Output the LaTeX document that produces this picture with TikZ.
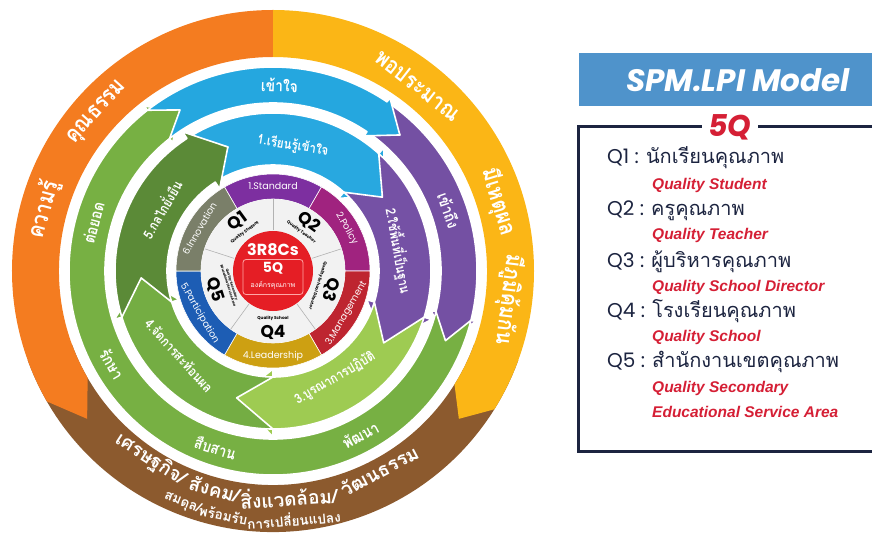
\documentclass[tikz,border=0pt]{standalone}
\usepackage{fontspec}
\setmainfont{Liberation Sans}
\newfontfamily\thaifont[Script=Thai]{Loma}
\newfontfamily\thainarrow[Script=Thai, FakeStretch=0.86]{Loma}
\newfontfamily\popfont{Poppins}

\definecolor{ringorange}{HTML}{F47C20}
\definecolor{ringyellow}{HTML}{FBB616}
\definecolor{ringbrown}{HTML}{8C5A2E}
\definecolor{midblue}{HTML}{25A7DF}
\definecolor{midpurple}{HTML}{7450A3}
\definecolor{midgreen}{HTML}{77B043}
\definecolor{inblue}{HTML}{28A8E0}
\definecolor{inpurple}{HTML}{7551A5}
\definecolor{inlight}{HTML}{9ECB52}
\definecolor{ingreen}{HTML}{74AD43}
\definecolor{indark}{HTML}{5B8A37}
\definecolor{segstd}{HTML}{7D2FA0}
\definecolor{segpol}{HTML}{A0237F}
\definecolor{segman}{HTML}{BE2530}
\definecolor{seglead}{HTML}{CDA012}
\definecolor{segpart}{HTML}{1D5DB4}
\definecolor{seginno}{HTML}{7A7F69}
\definecolor{corered}{HTML}{E51E25}
\definecolor{headblue}{HTML}{4F93CB}
\definecolor{boxnavy}{HTML}{1C2440}
\definecolor{listred}{HTML}{D51F35}

% colour, tail, notch, head base, tip, inner r, outer r, wing
\newcommand{\ringarrow}[8]{%
  \pgfmathsetmacro{\rmid}{(#6+#7)/2}
  \path[arrowband,#1] (#2:#7) arc[start angle=#2,end angle=#4,radius=#7]
    -- (#4:{#7+#8}) -- (#5:\rmid) -- (#4:{#6-#8}) -- (#4:#6)
    arc[start angle=#4,end angle=#2,radius=#6] -- (#3:\rmid) -- cycle;}

\begin{document}
\begin{tikzpicture}[x=1pt, y=1pt,
  arrowband/.style={draw=white, line width=1.6pt, line join=round},
  bigword/.style={font=\thainarrow\bfseries\fontsize{23}{25}\selectfont, text=white, inner sep=0pt},
  brownword/.style={font=\thaifont\bfseries\fontsize{19}{21}\selectfont, text=white, inner sep=0pt},
  brownsmall/.style={font=\thaifont\bfseries\fontsize{13.5}{15}\selectfont, text=white, inner sep=0pt},
  midword/.style={font=\thainarrow\bfseries\fontsize{16}{18}\selectfont, text=white, inner sep=0pt},
  inword/.style={font=\thainarrow\bfseries\fontsize{13.5}{15}\selectfont, text=white, inner sep=0pt},
  segword/.style={font=\popfont\fontsize{9.5}{10}\selectfont, text=white, inner sep=0pt},
  qbig/.style={font=\popfont\bfseries\fontsize{17}{18}\selectfont, text=black, inner sep=0pt},
  qsmall/.style={font=\popfont\bfseries\fontsize{4.2}{5}\selectfont, text=black, inner sep=0pt, align=center},
  listthai/.style={anchor=west, font=\popfont\fontsize{20}{22}\selectfont, text=boxnavy, inner sep=0pt},
  listeng/.style={anchor=west, font=\bfseries\itshape\fontsize{15.5}{17}\selectfont, text=listred, inner sep=0pt}]

\useasboundingbox (-273,-264) rectangle (599,271);

% outer ring
\fill[ringbrown] (200:261) arc[start angle=200,end angle=340,radius=261]
  -- (340:214) arc[start angle=340,end angle=200,radius=214] -- cycle;
\ringarrow{fill=ringorange,draw=none}{90}{90}{210}{218.5}{214}{261}{0}
\ringarrow{fill=ringyellow,draw=none}{90}{90}{-32}{-38.5}{214}{261}{0}

\node[bigword, rotate=75]  (kwamru)   at (165:237) {ความรู้};
\node[bigword, rotate=48]  (khunna)   at (138:236) {คุณธรรม};
\node[bigword, rotate=-38] (phopra)   at (52:236)  {พอประมาณ};
\node[bigword, rotate=-73] (mihet)    at (17:236)  {มีเหตุผล};
\node[bigword, rotate=-97] (miphum)   at (-7:237)  {มีภูมิคุ้มกัน};

\node[brownword, rotate=-33] (set)  at (-123:225) {เศรษฐกิจ/};
\node[brownword, rotate=-15] (sang) at (-105:226) {สังคม/};
\node[brownword, rotate=4]   (sing) at (-86:226)  {สิ่งแวดล้อม/};
\node[brownword, rotate=28]  (wat)  at (-62:226)  {วัฒนธรรม};
\node[brownsmall, rotate=-21.3] (somdun) at (-111.3:249) {สมดุล/};
\node[brownsmall, rotate=-11.5] (prom)   at (-101.5:249) {พร้อมรับ};
\node[brownsmall, rotate=4.8]   (plian)  at (-85.2:249)  {การเปลี่ยนแปลง};

% middle ring
\ringarrow{fill=midpurple}{56}{47}{-14}{-22}{168}{204}{5}
\ringarrow{fill=midgreen}{-14}{-22}{-232}{-240}{168}{204}{5}
\ringarrow{fill=midblue}{128}{120}{56}{47}{168}{204}{5}

\node[midword, rotate=-2]  (khaochai) at (88:186)   {เข้าใจ};
\node[midword, rotate=-71] (khaothueng) at (19:186) {เข้าถึง};
\node[midword, rotate=28]  (phatthana) at (-62:186) {พัฒนา};
\node[midword, rotate=-18] (suebsan)  at (-108:186) {สืบสาน};
\node[midword, rotate=-60] (raksa)    at (210:186)  {รักษา};
\node[midword, rotate=75]  (toyot)    at (165:186)  {ต่อยอด};

% inner ring
\ringarrow{fill=inblue}{123}{110}{48}{34}{106}{158}{8}
\ringarrow{fill=inpurple}{48}{34}{-17}{-33}{106}{158}{8}
\ringarrow{fill=inlight}{-17}{-33}{-90}{-106}{106}{158}{8}
\ringarrow{fill=ingreen}{-90}{-106}{-163}{-177}{106}{158}{8}
\ringarrow{fill=indark}{197}{183}{123}{110}{106}{158}{8}

\node[inword, rotate=-9]  (step1) at (81:127)  {1.เรียนรู้เข้าใจ};
\node[inword, rotate=-80] (step2) at (9:127)   {2.ใช้พื้นที่เป็นฐาน};
\node[inword, rotate=30]  (step3) at (-60:124) {3.บูรณาการปฏิบัติ};
\node[inword, rotate=-48] (step4) at (222:126) {4.จัดการสะท้อนผล};
\node[inword, rotate=60]  (step5) at (151:128) {5.กลไกยั่งยืน};

% 6C ring
\foreach \a/\c in {60/segstd, 0/segpol, -60/segman, -120/seglead, 180/segpart, 120/seginno}
  \filldraw[fill=\c, draw=white, line width=0.6pt] (\a:97) arc[start angle=\a,end angle=\a+60,radius=97]
    -- ({\a+60}:72) arc[start angle=\a+60,end angle=\a,radius=72] -- cycle;

\node[segword]             (std)  at (90:85)  {1.Standard};
\node[segword, rotate=-60] (pol)  at (30:85)  {2.Policy};
\node[segword, rotate=60]  (man)  at (-30:85) {3.Management};
\node[segword]             (lead) at (-90:85) {4.Leadership};
\node[segword, rotate=-60] (part) at (210:85) {5.Participation};
\node[segword, rotate=60]  (inno) at (150:85) {6.Innovation};

% 5Q disk
\fill[black!5] (0,0) circle[radius=72];
\foreach \a in {90,18,-54,-126,162}
  \draw[black!30, line width=0.6pt] (\a:41) -- (\a:72);

\node[qbig, rotate=36]   (q1) at (126:61) {Q1};
\node[qsmall, rotate=36] (q1en) at (126:48) {Quality Student};
\node[qbig, rotate=-36]   (q2) at (54:61) {Q2};
\node[qsmall, rotate=-36] (q2en) at (54:48) {Quality Teacher};
\node[qbig, rotate=-108]   (q3) at (-18:61) {Q3};
\node[qsmall, rotate=-108] (q3en) at (-18:47) {Quality School Director};
\node[qbig]   (q4) at (-90:61) {Q4};
\node[qsmall] (q4en) at (-90:47) {Quality School};
\node[qbig, rotate=-72] (q5) at (198:61) {Q5};
\node[qsmall, rotate=-72, font=\popfont\bfseries\fontsize{3.4}{4}\selectfont] (q5en) at (198:45) {Quality Secondary\\Educational Service Area};

% core
\node[circle, fill=corered, minimum size=80, inner sep=0pt] (core) at (0,0) {};
\node[draw=red!35, line width=0.8pt, rounded corners=3, minimum width=60, minimum height=35] (corebox) at (0,-6) {};
\node[font=\popfont\bfseries\fontsize{16}{17}\selectfont, text=white, inner sep=0pt] (rc) at (0,21) {3R8Cs};
\node[font=\popfont\bfseries\fontsize{14}{15}\selectfont, text=white, inner sep=0pt] (fiveq) at (0,3) {5Q};
\node[font=\thaifont\fontsize{7}{8}\selectfont, text=white, inner sep=0pt] (org) at (0,-14) {องค์กรคุณภาพ};

% right panel
\fill[headblue] (306,165) rectangle (599,218);
\node[font=\popfont\bfseries\itshape\fontsize{31}{33}\selectfont, text=white, inner sep=0pt] (title) at (465,191) {SPM.LPI Model};
\draw[boxnavy, line width=3pt] (599,144) -- (305,144) -- (305,-180) -- (599,-180);
\node[fill=white, inner xsep=6pt, inner ysep=0pt, font=\popfont\bfseries\itshape\fontsize{30}{31}\selectfont, text=listred] (fiveqtag) at (457,144) {5Q};

\node[listthai] (l1) at (334,113)  {Q1 : {\thaifont นักเรียนคุณภาพ}};
\node[listeng]  (e1) at (379,86)   {Quality Student};
\node[listthai] (l2) at (334,60)   {Q2 : {\thaifont ครูคุณภาพ}};
\node[listeng]  (e2) at (379,36)   {Quality Teacher};
\node[listthai] (l3) at (334,9)    {Q3 : {\thaifont ผู้บริหารคุณภาพ}};
\node[listeng]  (e3) at (379,-16)  {Quality School Director};
\node[listthai] (l4) at (334,-40)  {Q4 : {\thaifont โรงเรียนคุณภาพ}};
\node[listeng]  (e4) at (379,-66)  {Quality School};
\node[listthai] (l5) at (334,-91)  {Q5 : {\thaifont สำนักงานเขตคุณภาพ}};
\node[listeng]  (e5) at (379,-117) {Quality Secondary};
\node[listeng]  (e6) at (379,-141) {Educational Service Area};

\end{tikzpicture}
\end{document}
